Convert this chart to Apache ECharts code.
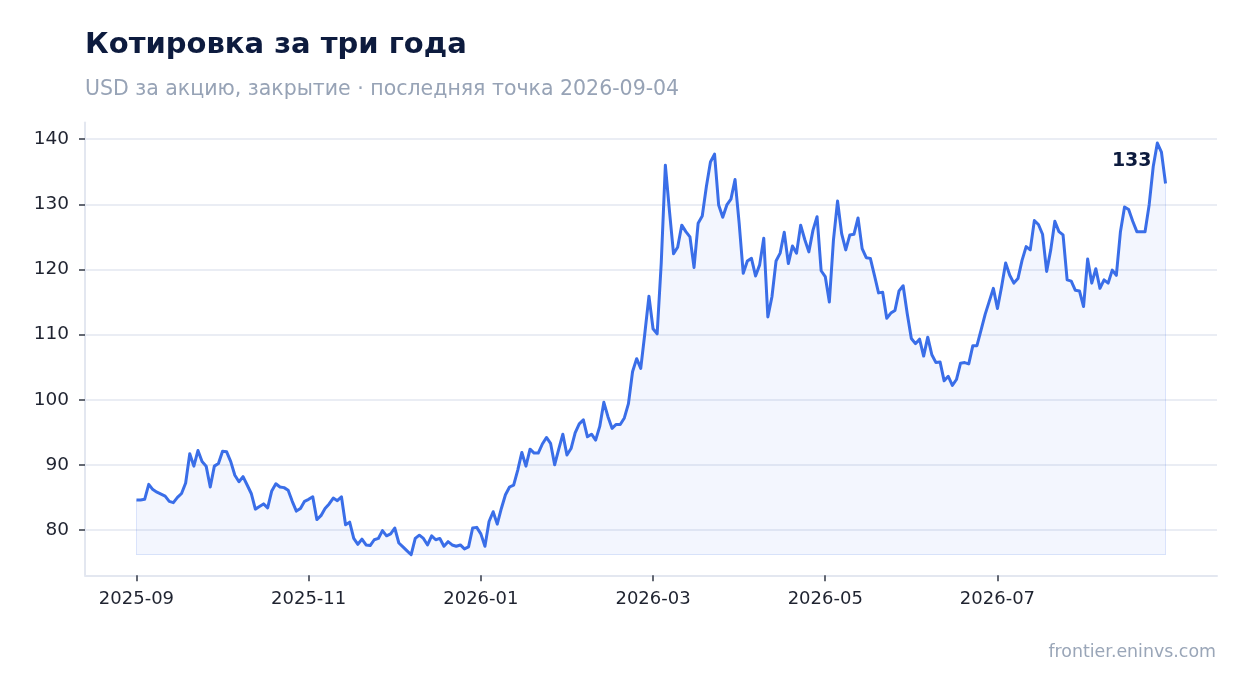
<!DOCTYPE html>
<html>
<head>
<meta charset="utf-8">
<title>Котировка за три года</title>
<script src="https://cdn.jsdelivr.net/npm/echarts@6/dist/echarts.min.js"></script>
<style>
html, body { margin: 0; padding: 0; background: #fff; }
#chart { width: 1247px; height: 693px; }
</style>
</head>
<body>
<div id="chart"></div>
<script>
// closing prices, one per trading day (252 points, last one 2026-09-04)
var prices = [
    84.6, 84.6, 84.7, 87.0, 86.2, 85.8, 85.5, 85.2, 84.4, 84.2,
    85.0, 85.6, 87.2, 91.7, 89.8, 92.2, 90.5, 89.8, 86.6, 89.8,
    90.2, 92.1, 92.0, 90.5, 88.4, 87.4, 88.2, 86.9, 85.6, 83.2,
    83.6, 84.0, 83.4, 86.0, 87.1, 86.6, 86.5, 86.1, 84.4, 82.9,
    83.3, 84.4, 84.7, 85.1, 81.6, 82.2, 83.3, 84.0, 84.9, 84.5,
    85.1, 80.8, 81.2, 78.7, 77.8, 78.6, 77.7, 77.6, 78.5, 78.7,
    79.9, 79.1, 79.4, 80.3, 78.0, 77.4, 76.8, 76.2, 78.7, 79.2,
    78.7, 77.7, 79.1, 78.5, 78.7, 77.5, 78.2, 77.7, 77.5, 77.7,
    77.1, 77.4, 80.3, 80.4, 79.4, 77.5, 81.3, 82.8, 80.9, 83.3,
    85.4, 86.6, 86.9, 89.2, 91.9, 89.8, 92.4, 91.8, 91.8, 93.2,
    94.2, 93.3, 90.0, 92.4, 94.7, 91.5, 92.5, 94.9, 96.3, 96.9,
    94.3, 94.7, 93.8, 95.9, 99.6, 97.4, 95.6, 96.2, 96.2, 97.2,
    99.4, 104.3, 106.3, 104.8, 110.2, 115.9, 110.9, 110.1, 121.0, 136.0,
    129.0, 122.4, 123.4, 126.8, 125.8, 125.0, 120.3, 127.1, 128.2, 132.7,
    136.5, 137.7, 129.9, 128.0, 129.9, 130.8, 133.8, 127.1, 119.4, 121.3,
    121.7, 119.0, 120.7, 124.8, 112.7, 115.8, 121.3, 122.5, 125.7, 120.9,
    123.6, 122.5, 126.8, 124.6, 122.7, 126.0, 128.1, 119.8, 118.9, 115.0,
    124.5, 130.5, 125.5, 123.0, 125.3, 125.4, 127.9, 123.2, 121.8, 121.7,
    119.1, 116.4, 116.5, 112.5, 113.3, 113.7, 116.7, 117.5, 113.2, 109.4,
    108.6, 109.3, 106.7, 109.6, 106.9, 105.7, 105.8, 102.9, 103.6, 102.2,
    103.1, 105.6, 105.7, 105.5, 108.3, 108.3, 110.7, 113.1, 115.1, 117.1,
    114.0, 117.3, 121.0, 119.1, 117.9, 118.6, 121.4, 123.5, 123.0, 127.5,
    126.9, 125.4, 119.7, 123.0, 127.4, 125.8, 125.3, 118.4, 118.2, 116.8,
    116.7, 114.3, 121.6, 117.9, 120.1, 117.1, 118.4, 117.9, 119.9, 119.1,
    125.8, 129.6, 129.2, 127.4, 125.8, 125.8, 125.8, 129.9, 135.8, 139.4,
    138.0, 133.2
];

// x ticks sit on every 42nd trading day
var xTickIdx = [0, 42, 84, 126, 168, 210];
var xTickLabels = ['2025-09', '2025-11', '2026-01', '2026-03', '2026-05', '2026-07'];
var yTicks = [80, 90, 100, 110, 120, 130, 140];

var titleText = 'Котировка за три года';
var subText = 'USD за акцию, закрытие · последняя точка 2026-09-04';
var sourceText = 'frontier.eninvs.com';

var FONT = 'DejaVu Sans';
var lineColor = '#3a6ee8';

var points = prices.map(function(v, i) { return [i, v]; });
var last = prices.length - 1;
var pMin = Math.min.apply(null, prices);
var pMax = Math.max.apply(null, prices);
// 5% margins on both axes
var xPad = last * 0.05;
var yPad = (pMax - pMin) * 0.05;

var chart = echarts.init(document.getElementById('chart'), null, {renderer: 'canvas'});

var option = {
    backgroundColor: '#ffffff',
    animation: false,
    title: [{
        text: titleText,
        left: 85, top: 31,
        padding: 0,
        textStyle: {fontFamily: FONT, fontSize: 29, fontWeight: 'bold', color: '#0d1b3e'}
    }, {
        text: subText,
        left: 85, top: 79,
        padding: 0,
        textStyle: {fontFamily: FONT, fontSize: 20.5, fontWeight: 'normal', color: '#97a3b6'}
    }, {
        text: sourceText,
        right: 31, top: 644,
        padding: 0,
        textStyle: {fontFamily: FONT, fontSize: 17.4, fontWeight: 'normal', color: '#9aa6b8'}
    }],
    grid: {left: 85, right: 30, top: 122.5, bottom: 117.7, containLabel: false},
    xAxis: {
        type: 'value',
        min: -xPad,
        max: last + xPad,
        axisLine: {show: true, onZero: false, lineStyle: {color: '#e3e7f0', width: 2}},
        axisTick: {show: true, customValues: xTickIdx, length: 6, lineStyle: {color: '#3d4350', width: 1.6}},
        axisLabel: {
            customValues: xTickIdx,
            margin: 15,
            fontFamily: FONT, fontSize: 18, color: '#1f2330',
            formatter: function(v) { return xTickLabels[xTickIdx.indexOf(v)]; }
        },
        splitLine: {show: false}
    },
    yAxis: {
        type: 'value',
        min: pMin - yPad,
        max: pMax + yPad,
        axisLine: {show: true, onZero: false, lineStyle: {color: '#e3e7f0', width: 2}},
        axisTick: {show: true, customValues: yTicks, length: 6, lineStyle: {color: '#3d4350', width: 1.6}},
        axisLabel: {
            customValues: yTicks,
            margin: 16,
            fontFamily: FONT, fontSize: 18.5, color: '#1f2330'
        },
        splitLine: {show: true, lineStyle: {color: '#e3e7f0', width: 1.6}}
    },
    series: [{
        type: 'line',
        data: points,
        showSymbol: false,
        symbol: 'none',
        silent: true,
        lineStyle: {color: lineColor, width: 3, join: 'round'},
        areaStyle: {color: 'rgba(59,110,233,0.09)', origin: pMin},
        markLine: {
            silent: true,
            symbol: 'none',
            label: {show: false},
            lineStyle: {color: 'rgba(59,110,233,0.16)', width: 1, type: 'solid'},
            data: [
                [{coord: [0, pMin]}, {coord: [last, pMin]}],
                [{coord: [0, pMin]}, {coord: [0, prices[0]]}],
                [{coord: [last, pMin]}, {coord: [last, prices[last]]}]
            ]
        },
        markPoint: {
            silent: true,
            symbol: 'circle',
            symbolSize: 0,
            data: [{coord: [last, prices[last]], value: prices[last]}],
            label: {
                show: true,
                position: 'left',
                distance: 14,
                offset: [0, -22],
                fontFamily: FONT, fontSize: 19, fontWeight: 'bold', color: '#0d1b3e',
                formatter: function(p) { return p.value.toFixed(0); }
            }
        }
    }]
};

chart.setOption(option);
</script>
</body>
</html>
